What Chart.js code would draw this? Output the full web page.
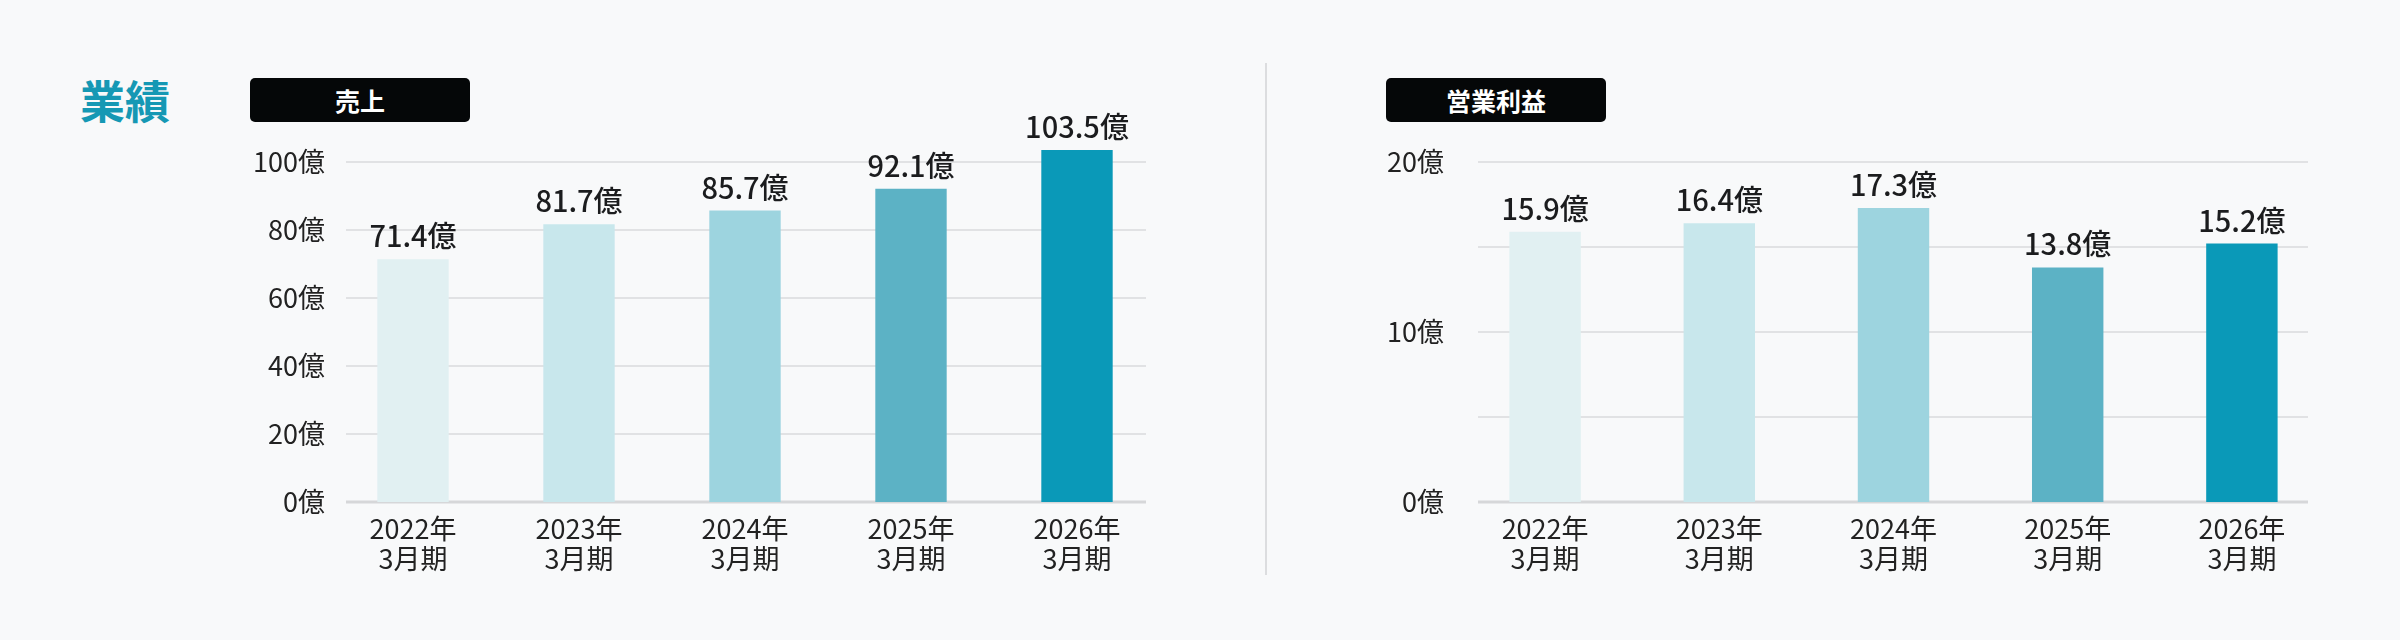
<!DOCTYPE html>
<html lang="ja">
<head>
<meta charset="utf-8">
<title>業績</title>
<script src="https://cdn.jsdelivr.net/npm/chart.js@4.4.1/dist/chart.umd.min.js"></script>
<style>
  html, body { margin: 0; padding: 0; }
  body {
    width: 2400px; height: 640px; position: relative; overflow: hidden;
    background: #f8f9fa;
    font-family: "Noto Sans CJK JP", "Noto Sans", sans-serif;
  }
  .title {
    position: absolute; left: 80px; top: 72px;
    font-size: 45px; font-weight: 700; color: #1598b4; line-height: 56px;
  }
  .tag {
    position: absolute; top: 78px; height: 44px;
    background: #050708; color: #fff; border-radius: 5px;
    font-size: 25px; font-weight: 700; line-height: 44px; text-align: center;
  }
  .divider {
    position: absolute; left: 1265px; top: 63px; width: 2px; height: 512px;
    background: #dcdddf;
  }
  canvas { position: absolute; }
</style>
</head>
<body>
<div class="title">業績</div>
<div class="tag" style="left:250px;width:220px;">売上</div>
<div class="tag" style="left:1386px;width:220px;">営業利益</div>
<div class="divider"></div>
<canvas id="sales" width="960" height="540" style="left:230px;top:100px;"></canvas>
<canvas id="profit" width="1020" height="540" style="left:1340px;top:100px;"></canvas>

<script>
//////////////////////////////////////////////////
/////       data                        //////////
//////////////////////////////////////////////////

var years = ["2022年", "2023年", "2024年", "2025年", "2026年"];
var period = "3月期";
var sales = [71.4, 81.7, 85.7, 92.1, 103.5];
var profit = [15.9, 16.4, 17.3, 13.8, 15.2];
var barColors = ["#e1f0f2", "#c8e7ec", "#9dd4df", "#5cb2c5", "#0a99b8"];
var unit = "億";

var font = "'Noto Sans CJK JP', 'Noto Sans', sans-serif";
Chart.defaults.font.family = font;
Chart.defaults.color = "#222";

// horizontal grid, a little shorter than the plot area
var insetGrid = {
    id: 'insetGrid',
    beforeDatasetsDraw: function (chart, args, opts) {
        var ctx = chart.ctx, area = chart.chartArea, y = chart.scales.y;
        ctx.save();
        y.ticks.forEach(function (t) {
            var py = Math.round(y.getPixelForValue(t.value));
            ctx.beginPath();
            ctx.lineWidth = t.value === 0 ? 3 : 2;
            ctx.strokeStyle = t.value === 0 ? "#d6d7d9" : "#e1e2e4";
            ctx.moveTo(area.left + opts.left, py);
            ctx.lineTo(area.right - opts.right, py);
            ctx.stroke();
        });
        ctx.restore();
    }
};

// value above each bar
var barValues = {
    id: 'barValues',
    afterDatasetsDraw: function (chart) {
        var ctx = chart.ctx;
        var meta = chart.getDatasetMeta(0);
        var data = chart.data.datasets[0].data;
        ctx.save();
        ctx.font = "500 29px " + font;
        ctx.fillStyle = "#1b1c1e";
        ctx.textAlign = "center";
        ctx.textBaseline = "alphabetic";
        meta.data.forEach(function (bar, i) {
            ctx.fillText(data[i].toFixed(1) + unit, bar.x, bar.y - 12);
        });
        ctx.restore();
    }
};

function makeChart(id, values, max, step, labelStep, yWidth, tickPad, padRight, grid, barPct) {
    return new Chart(document.getElementById(id), {
        type: 'bar',
        data: {
            labels: years.map(function (y) { return [y, period]; }),
            datasets: [{
                data: values,
                backgroundColor: barColors,
                borderWidth: 0,
                categoryPercentage: 1,
                barPercentage: barPct,
                clip: false
            }]
        },
        options: {
            responsive: false,
            animation: false,
            devicePixelRatio: 1,
            layout: { padding: { top: 62, right: padRight, left: 0, bottom: 0 } },
            plugins: {
                legend: { display: false },
                tooltip: { enabled: false },
                insetGrid: grid
            },
            scales: {
                x: {
                    grid: { display: false },
                    border: { display: false },
                    ticks: {
                        padding: 4,
                        maxRotation: 0,
                        autoSkip: false,
                        color: "#222",
                        font: { size: 27, lineHeight: 1.11 }
                    },
                    afterFit: function (s) { s.height = 138; }
                },
                y: {
                    min: 0,
                    max: max,
                    grid: { display: false, drawTicks: false },
                    border: { display: false },
                    ticks: {
                        stepSize: step,
                        padding: tickPad,
                        color: "#222",
                        font: { size: 27 },
                        callback: function (v) { return v % labelStep === 0 ? v + unit : ''; }
                    },
                    afterFit: function (s) { s.width = yWidth; }
                }
            }
        },
        plugins: [insetGrid, barValues]
    });
}

makeChart('sales', sales, 100, 10, 20, 100, 5, 30, { left: 16, right: 14 }, 0.43);
makeChart('profit', profit, 20, 5, 10, 118, 14, 31, { left: 20, right: 21 }, 0.41);
</script>
</body>
</html>
